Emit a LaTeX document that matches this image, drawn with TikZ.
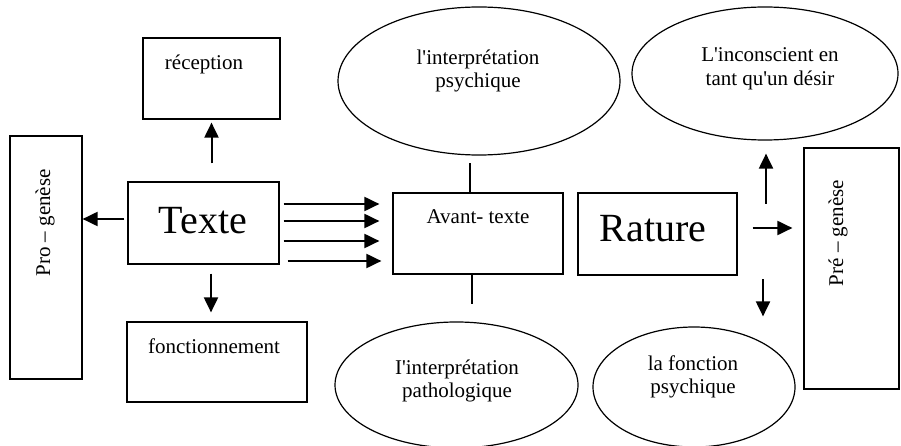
\documentclass[tikz,border=0pt]{standalone}
\usepackage{fontspec}
\setmainfont{Liberation Serif}
\usetikzlibrary{shapes.geometric,arrows.meta}
\tikzset{
	box/.style={draw, line width=1.2pt, inner sep=0pt},
	oval/.style={draw, ellipse, line width=1.2pt, inner sep=0pt},
	txt/.style={inner sep=0pt, align=center, font=\fontsize{21}{23.5}\selectfont},
	big/.style={inner sep=0pt, font=\fontsize{40}{44}\selectfont},
	arr/.style={line width=2pt, -{Triangle[length=15pt,width=14pt]}},
	link/.style={line width=1.3pt}
}
\newcommand{\ap}{\textquotesingle}
\begin{document}
\begin{tikzpicture}[x=1pt,y=-1pt]
	\useasboundingbox (0,0) rectangle (901,446);
%
	% left column
	\node[box, minimum width=72pt, minimum height=243pt] (progen) at (46,257.5) {};
	\node[txt, rotate=90] (progentxt) at (45,223) {Pro \textendash{} genèse};
	\node[box, minimum width=151pt, minimum height=82pt] (texte) at (203.5,223) {};
	\node[big] (textetxt) at (203,221) {Texte};
	\node[box, minimum width=137pt, minimum height=81pt] (recep) at (211.5,78.5) {};
	\node[txt] (receptxt) at (204,64) {réception};
	\node[box, minimum width=180pt, minimum height=80pt] (fonct) at (217,362) {};
	\node[txt] (foncttxt) at (214,346) {fonctionnement};
%
	% middle
	\node[box, minimum width=170pt, minimum height=81pt] (avant) at (478,233.5) {};
	\node[txt] (avanttxt) at (478,217) {Avant- texte};
	\node[oval, minimum width=282pt, minimum height=148pt] (psy) at (479,81) {};
	\node[txt] (psytxt) at (478,71) {l\ap interprétation\\psychique};
	\node[oval, minimum width=243pt, minimum height=126pt] (patho) at (456.5,385) {};
	\node[txt] (pathotxt) at (457,381) {I\ap interprétation\\pathologique};
%
	% right
	\node[box, minimum width=159pt, minimum height=82pt] (rature) at (657.5,234) {};
	\node[big] (raturetxt) at (653,229) {Rature};
	\node[box, minimum width=95pt, minimum height=241pt] (pregen) at (851.5,268.5) {};
	\node[txt, rotate=90] (pregentxt) at (838,233) {Pré \textendash{} genèse};
	\node[oval, minimum width=266pt, minimum height=133pt] (incon) at (765,73.5) {};
	\node[txt] (incontxt) at (770,69) {L\ap inconscient en\\tant qu\ap un désir};
	\node[oval, minimum width=202pt, minimum height=120pt] (fpsy) at (694,387) {};
	\node[txt] (fpsytxt) at (693,377) {la fonction\\psychique};
	\coordinate (rfork) at (765,228);
%
	% arrows from Texte
	\draw[arr, shorten <=3pt] ([yshift=4pt]texte.west) -- ([yshift=4pt]texte.west -| progen.east);
	\draw[arr, shorten <=18pt, shorten >=3pt] (texte.north -| recep.south) -- (recep.south);
	\draw[arr, shorten <=9pt, shorten >=9pt] ([xshift=7.5pt]texte.south) -- ([xshift=7.5pt]texte.south |- fonct.north);
	\foreach \y/\s/\e in {204/4/13, 221/4/13, 241/4/13, 261/8/11}
		\draw[arr, shorten <=\s pt, shorten >=\e pt] (texte.east |- 0,\y) -- (avant.west |- 0,\y);
%
	% links to Avant- texte
	\draw[link, shorten >=7pt] ([xshift=-8pt]avant.north) -- ([xshift=-8pt]avant.north |- psy.south);
	\draw[link, shorten >=17pt] ([xshift=-6pt]avant.south) -- ([xshift=-6pt]avant.south |- patho.north);
%
	% arrows from Rature
	\draw[arr, shorten <=15pt, shorten >=11pt] (rature.east |- rfork) -- (pregen.west |- rfork);
	\draw[arr, shorten >=13pt] ([xshift=1pt,yshift=24pt]rfork) -- ([xshift=1pt]rfork |- incon.south);
	\draw[arr, shorten >=10pt] ([xshift=-2pt,yshift=-51pt]rfork) -- ([xshift=-2pt]rfork |- fpsy.north);
\end{tikzpicture}
\end{document}
